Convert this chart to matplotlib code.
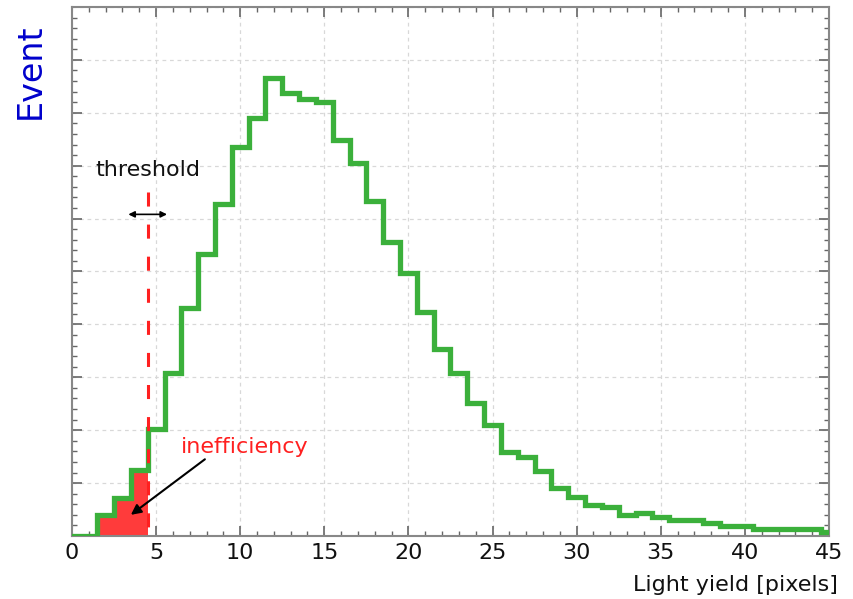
"""Light-yield histogram with detection threshold and inefficiency region."""

import numpy as np
import matplotlib
matplotlib.use("Agg")
import matplotlib.pyplot as plt
from matplotlib.ticker import MultipleLocator, NullFormatter

# Bin centres (pixels) and event counts (arbitrary units)
bin_centers = list(range(0, 46))
counts = [
    0.00, 0.00, 0.39, 0.71, 1.24, 2.03, 3.09, 4.31, 5.34, 6.27,
    7.35, 7.90, 8.65, 8.37, 8.27, 8.20, 7.49, 7.06, 6.33, 5.55,
    4.98, 4.23, 3.54, 3.09, 2.51, 2.09, 1.58, 1.49, 1.22, 0.90,
    0.74, 0.59, 0.54, 0.40, 0.44, 0.35, 0.30, 0.30, 0.24, 0.19,
    0.18, 0.14, 0.14, 0.14, 0.14, 0.08,
]
threshold = 4.5
x_ticks = [0, 5, 10, 15, 20, 25, 30, 35, 40, 45]

GREEN = "#3bb03b"
RED = "#ff3b3b"

centers = np.array(bin_centers, dtype=float)
values = np.array(counts)
edges = np.append(centers - 0.5, centers[-1] + 0.5)

fig = plt.figure(figsize=(8.54, 5.99), dpi=100)
ax = fig.add_axes([0.0843, 0.1052, 0.8864, 0.8831])

# Inefficiency: events below threshold
below = centers < threshold
ax.stairs(values[below], edges[: below.sum() + 1], fill=True,
          color=RED, zorder=2)

ax.stairs(values, edges, color=GREEN, linewidth=3.8, zorder=3)

# dashed threshold marker, drawn top-down so the dash pattern starts at the top
ax.plot([threshold, threshold], [6.5, 0], color="#ff2020",
        linestyle=(0, (4.6, 5.9)), linewidth=2.2, zorder=4)
ax.annotate("", xy=(5.65, 6.08), xytext=(3.35, 6.08),
            arrowprops=dict(arrowstyle="<|-|>", lw=1.2, color="black",
                            mutation_scale=9, shrinkA=0, shrinkB=0))
ax.text(threshold, 6.92, "threshold", ha="center", va="center",
        fontsize=16, color="#111111")

ax.text(10.29, 1.69, "inefficiency", ha="center", va="center",
        fontsize=16, color="#ff2020")
ax.annotate("", xy=(3.5, 0.40), xytext=(7.9, 1.45),
            arrowprops=dict(arrowstyle="-|>", lw=1.5, color="black",
                            mutation_scale=15, shrinkA=0, shrinkB=0))

ax.set_xlim(0, 45)
ax.set_ylim(0, 10)
ax.set_xticks(x_ticks)
ax.xaxis.set_minor_locator(MultipleLocator(1))
ax.yaxis.set_major_locator(MultipleLocator(1))
ax.yaxis.set_minor_locator(MultipleLocator(0.2))
ax.yaxis.set_major_formatter(NullFormatter())

ax.tick_params(which="both", direction="in", top=True, right=True,
               color="#666666", labelsize=16, labelcolor="#111111")
ax.tick_params(which="major", length=7, width=1.2, pad=5)
ax.tick_params(which="minor", length=3.5, width=1.0)

for spine in ax.spines.values():
    spine.set_color("#888888")
    spine.set_linewidth(1.5)

ax.grid(True, which="major", linestyle=(0, (3, 3)), color="#d8d8d8",
        linewidth=0.9)
ax.set_axisbelow(True)

fig.text(0.981, 0.0234, "Light yield [pixels]", ha="right", va="center",
         fontsize=16, color="#111111")
fig.text(0.036, 0.96, "Event", ha="center", va="top", rotation=90,
         fontsize=24, color="#0000cc")

fig.savefig("out.png", dpi=100)
